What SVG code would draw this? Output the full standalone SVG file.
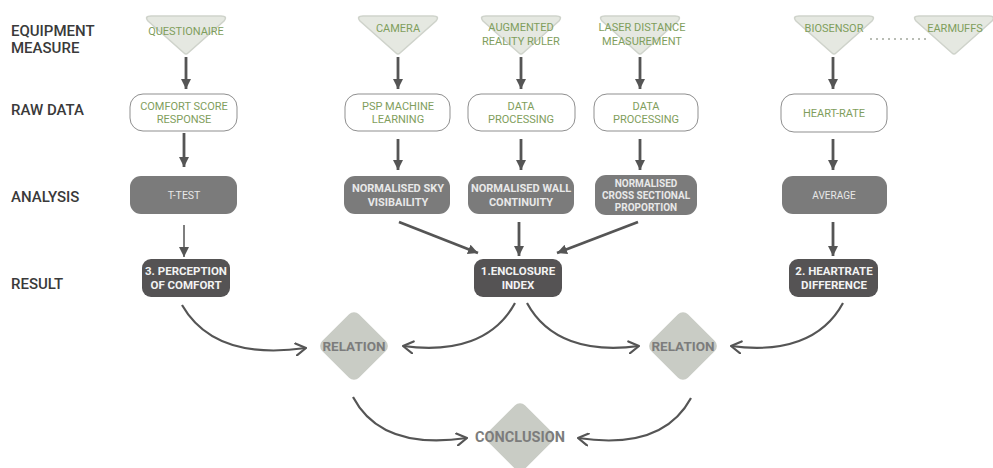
<svg xmlns="http://www.w3.org/2000/svg" width="993" height="468" viewBox="0 0 993 468">
<style>
.lbl{font-family:Roboto,"Liberation Sans",sans-serif;font-size:15px;font-weight:500;fill:#3a3a3a}
.raw{fill:#fff;stroke:#8f8f8f;stroke-width:1}
.ana{fill:#7b7b7b}
.res{fill:#555354}
.dia{fill:#c9ccc5}
.gt{font-family:Roboto,"Liberation Sans",sans-serif;font-size:11px;fill:#7f9e5c;text-anchor:middle}
.at{font-family:Roboto,"Liberation Sans",sans-serif;font-size:11px;font-weight:bold;fill:#e8e8e8;text-anchor:middle}
.rt{font-family:Roboto,"Liberation Sans",sans-serif;font-size:11.5px;font-weight:bold;fill:#f2f2f2;text-anchor:middle}
.dt{font-family:Roboto,"Liberation Sans",sans-serif;font-size:13.5px;font-weight:bold;fill:#7c7c7c;text-anchor:middle}
.s{stroke:#555;stroke-width:2.8;fill:none}
.c{stroke:#555;stroke-width:2.2;fill:none}
</style>
<defs>
<path id="tri" d="M-35,16 L35,16 Q42,16 38,21 L2,53 Q0,55 -2,53 L-38,21 Q-42,16 -35,16 Z" fill="#e5e8e1" stroke="#cfd3cb" stroke-width="1.5"/>
<marker id="fa" viewBox="0 0 10 10" refX="10" refY="5" markerWidth="10" markerHeight="10" markerUnits="userSpaceOnUse" orient="auto">
<path d="M0,0 L10,5 L0,10 z" fill="#555"/>
</marker>
<marker id="oa" viewBox="0 0 12 14" refX="11" refY="7" markerWidth="12" markerHeight="14" markerUnits="userSpaceOnUse" orient="auto">
<path d="M1,1 L11,7 L1,13" fill="none" stroke="#555" stroke-width="2.2" stroke-linecap="round" stroke-linejoin="round"/>
</marker>
</defs>

<g id="row-labels">
<text class="lbl" x="11" y="36">EQUIPMENT</text>
<text class="lbl" x="11" y="53">MEASURE</text>
<text class="lbl" x="11" y="115">RAW DATA</text>
<text class="lbl" x="11" y="202">ANALYSIS</text>
<text class="lbl" x="11" y="289">RESULT</text>
</g>

<g id="questionaire"><use href="#tri" x="186"/><text class="gt" x="186" y="35">QUESTIONAIRE</text></g>
<g id="camera"><use href="#tri" x="398"/><text class="gt" x="398" y="32">CAMERA</text></g>
<g id="ar-ruler"><use href="#tri" x="521"/><text class="gt" x="521" y="31">AUGMENTED</text><text class="gt" x="521" y="45">REALITY RULER</text></g>
<g id="laser"><use href="#tri" x="640"/><text class="gt" x="642" y="31">LASER DISTANCE</text><text class="gt" x="642" y="45">MEASUREMENT</text></g>
<g id="biosensor"><use href="#tri" x="834"/><text class="gt" x="834" y="32">BIOSENSOR</text></g>
<g id="earmuffs"><use href="#tri" x="954"/><text class="gt" x="955" y="32">EARMUFFS</text></g>

<g id="comfort-score"><rect class="raw" x="130" y="94" width="107" height="37" rx="13"/><text class="gt" x="184" y="110">COMFORT SCORE</text><text class="gt" x="184" y="123">RESPONSE</text></g>
<g id="psp"><rect class="raw" x="345" y="94" width="105" height="37" rx="13"/><text class="gt" x="398" y="110">PSP MACHINE</text><text class="gt" x="398" y="123">LEARNING</text></g>
<g id="data-proc-1"><rect class="raw" x="468" y="94" width="107" height="37" rx="13"/><text class="gt" x="521" y="110">DATA</text><text class="gt" x="521" y="123">PROCESSING</text></g>
<g id="data-proc-2"><rect class="raw" x="594" y="94" width="104" height="37" rx="13"/><text class="gt" x="646" y="110">DATA</text><text class="gt" x="646" y="123">PROCESSING</text></g>
<g id="heart-rate"><rect class="raw" x="781" y="94" width="106" height="38" rx="13"/><text class="gt" x="834" y="117">HEART-RATE</text></g>

<g id="t-test"><rect class="ana" x="130" y="176" width="107" height="38" rx="11"/><text class="at" x="184" y="199" style="font-weight:normal;font-size:10.5px">T-TEST</text></g>
<g id="sky"><rect class="ana" x="344" y="176" width="106" height="38" rx="11"/><text class="at" x="398" y="192">NORMALISED SKY</text><text class="at" x="398" y="206">VISIBAILITY</text></g>
<g id="wall"><rect class="ana" x="468" y="176" width="106" height="38" rx="11"/><text class="at" x="521" y="192">NORMALISED WALL</text><text class="at" x="521" y="206">CONTINUITY</text></g>
<g id="cross"><rect class="ana" x="595" y="175" width="102" height="40" rx="11"/><text class="at" x="646" y="187" style="font-size:10px">NORMALISED</text><text class="at" x="646" y="199" style="font-size:10px">CROSS SECTIONAL</text><text class="at" x="646" y="211" style="font-size:10px">PROPORTION</text></g>
<g id="average"><rect class="ana" x="782" y="176" width="105" height="38" rx="11"/><text class="at" x="834" y="199" style="font-weight:normal;font-size:10px">AVERAGE</text></g>

<g id="perception"><rect class="res" x="142" y="259" width="88" height="38" rx="9"/><text class="rt" x="186" y="275">3. PERCEPTION</text><text class="rt" x="186" y="289">OF COMFORT</text></g>
<g id="enclosure"><rect class="res" x="474" y="259" width="88" height="38" rx="9"/><text class="rt" x="518" y="275">1.ENCLOSURE</text><text class="rt" x="518" y="289">INDEX</text></g>
<g id="heartrate-diff"><rect class="res" x="789" y="259" width="89" height="38" rx="9"/><text class="rt" x="834" y="275">2. HEARTRATE</text><text class="rt" x="834" y="289">DIFFERENCE</text></g>

<g id="relation-1"><rect class="dia" x="328" y="320" width="52" height="52" rx="7" transform="rotate(45 354 346)"/><text class="dt" x="354" y="351">RELATION</text></g>
<g id="relation-2"><rect class="dia" x="657" y="320" width="52" height="52" rx="7" transform="rotate(45 683 346)"/><text class="dt" x="683" y="351">RELATION</text></g>
<g id="conclusion"><rect class="dia" x="494" y="411" width="52" height="52" rx="7" transform="rotate(45 520 437)"/><text class="dt" x="520" y="442" style="font-size:14.5px">CONCLUSION</text></g>

<g id="connectors">
<line x1="870" y1="39" x2="928" y2="39" stroke="#b9bdb5" stroke-width="2" stroke-dasharray="2,4"/>
<line class="s" x1="186" y1="57" x2="186" y2="89" marker-end="url(#fa)"/>
<line class="s" x1="398" y1="57" x2="398" y2="89" marker-end="url(#fa)"/>
<line class="s" x1="521" y1="57" x2="521" y2="89" marker-end="url(#fa)"/>
<line class="s" x1="640" y1="57" x2="640" y2="89" marker-end="url(#fa)"/>
<line class="s" x1="833" y1="57" x2="833" y2="89" marker-end="url(#fa)"/>
<line class="s" x1="184" y1="133" x2="184" y2="167" marker-end="url(#fa)"/>
<line class="s" x1="398" y1="139" x2="398" y2="170" marker-end="url(#fa)"/>
<line class="s" x1="521" y1="139" x2="521" y2="170" marker-end="url(#fa)"/>
<line class="s" x1="640" y1="139" x2="640" y2="170" marker-end="url(#fa)"/>
<line class="s" x1="833" y1="139" x2="833" y2="170" marker-end="url(#fa)"/>
<line x1="184" y1="225" x2="184" y2="257" stroke="#555" stroke-width="1.5" marker-end="url(#fa)"/>
<line class="s" x1="833" y1="222" x2="833" y2="256" marker-end="url(#fa)"/>
<line class="s" x1="399" y1="222" x2="478" y2="253" marker-end="url(#fa)"/>
<line class="s" x1="519" y1="222" x2="519" y2="256" marker-end="url(#fa)"/>
<line class="s" x1="638" y1="222" x2="557" y2="253" marker-end="url(#fa)"/>
<path class="c" d="M182,305 C205,345 250,356 306,348" marker-end="url(#oa)"/>
<path class="c" d="M515,303 C495,340 455,353 403,346" marker-end="url(#oa)"/>
<path class="c" d="M527,303 C547,340 587,353 639,346" marker-end="url(#oa)"/>
<path class="c" d="M843,303 C823,340 783,353 731,346" marker-end="url(#oa)"/>
<path class="c" d="M353,397 C373,435 413,446 467,438" marker-end="url(#oa)"/>
<path class="c" d="M691,398 C671,435 631,446 578,438" marker-end="url(#oa)"/>
</g>
</svg>
